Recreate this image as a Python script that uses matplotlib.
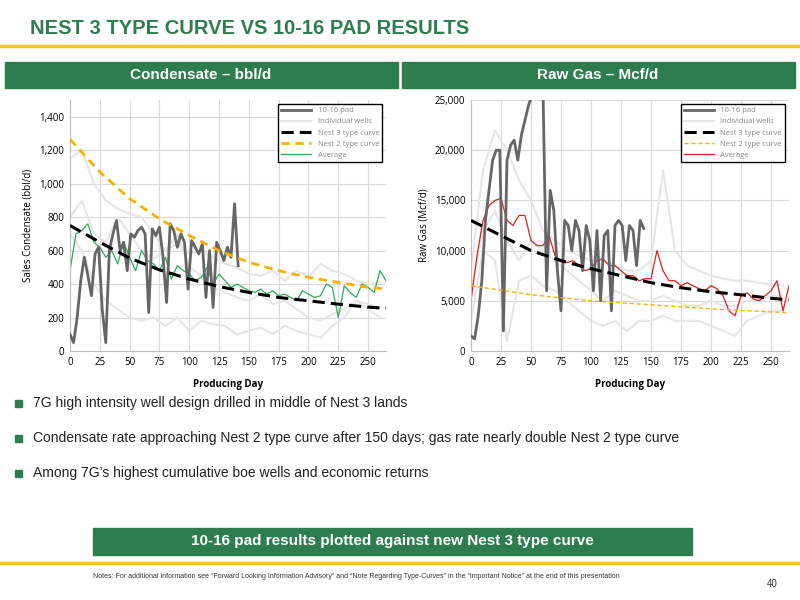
import matplotlib
matplotlib.use("Agg")
import matplotlib.pyplot as plt
from matplotlib import patches
from matplotlib.ticker import FuncFormatter

GREEN = "#2E7D4F"
GOLD = "#F2C12E"

# ---- condensate (bbl/d) ----
type_days = [0, 25, 50, 75, 100, 125, 150, 175, 200, 225, 250, 265]
cond_nest3 = [750, 650, 555, 485, 430, 385, 350, 320, 300, 280, 262, 255]
cond_nest2 = [1265, 1070, 910, 790, 690, 600, 530, 480, 440, 410, 380, 370]

cond_pad = [100, 50, 200, 420, 560, 450, 330, 580, 620, 250, 50, 600,
            700, 780, 600, 650, 480, 700, 680, 720, 740, 700, 230, 730,
            690, 740, 560, 290, 760, 720, 620, 700, 650, 370, 660, 620,
            580, 640, 320, 600, 260, 650, 600, 540, 620, 560, 880, 510]
cond_avg = [480, 700, 720, 760, 650, 620, 560, 600, 520, 650, 560, 480,
            600, 540, 520, 480, 560, 430, 510, 480, 460, 420, 440, 500,
            400, 460, 420, 380, 400, 380, 360, 350, 370, 340, 360, 330,
            340, 320, 300, 360, 340, 320, 330, 400, 380, 200, 390, 350,
            320, 400, 380, 350, 480, 420]
cond_wells = [
    [1150, 1200, 1000, 900, 850, 820, 800, 700, 600, 640, 580, 600, 560, 520,
     500, 460, 450, 480, 420, 480, 440, 520, 480, 460, 420, 400, 410],
    [700, 600, 400, 300, 250, 200, 180, 200, 150, 200, 120, 180, 160, 150,
     100, 120, 140, 100, 150, 120, 100, 80, 150, 200, 300, 250, 200],
    [800, 900, 700, 650, 800, 700, 600, 550, 600, 700, 500, 450, 380, 350,
     320, 300, 340, 280, 300, 250, 200, 180, 220, 250, 300, 280, 260],
]

# ---- raw gas (Mcf/d) ----
gas_nest3 = [13000, 11500, 10000, 9000, 8200, 7500, 6800, 6300, 5900, 5600, 5250, 5100]
gas_nest2 = [6500, 6050, 5600, 5300, 5000, 4800, 4600, 4400, 4200, 4050, 3900, 3800]
gas_pad = [1500, 1200, 3500, 7000, 13000, 16000, 19000, 20000, 20000, 2000,
           19000, 20500, 21000, 19000, 21500, 23000, 24500, 25500, 26000, 26000,
           26000, 6000, 16000, 14000, 8000, 4000, 13000, 12500, 10000, 13000,
           12000, 8000, 12500, 11000, 6000, 12000, 5000, 11500, 12000, 4000,
           12500, 13000, 12500, 9000, 12500, 12000, 8500, 13000, 12200]
gas_avg = [5000, 9500, 13000, 14500, 15000, 15200, 13000, 12500, 13500, 13500,
           11000, 10500, 10500, 11500, 9500, 9000, 8800, 9000, 8500, 8000,
           8200, 9000, 9200, 8500, 8500, 8000, 7500, 7500, 7000, 7200,
           7200, 10000, 8000, 7000, 7000, 6500, 6800, 6500, 6200, 6000,
           6500, 6200, 5500, 4000, 3500, 5500, 5800, 5200, 5000, 5500,
           6000, 7000, 4000, 6500]
gas_wells = [
    [8000, 18000, 22000, 20000, 17000, 15000, 12000, 11000, 10000, 9500, 9000, 9000,
     8500, 8000, 8000, 9000, 18000, 10000, 8500, 8000, 7500, 7200, 7000, 7000,
     6800, 6600, 6500],
    [3000, 10000, 9000, 1000, 7000, 7500, 6500, 6000, 5000, 4000, 3000, 2500,
     3000, 2000, 3000, 3000, 3500, 3000, 3000, 3000, 2500, 2000, 1500, 3000,
     3500, 4000, 4000],
    [6000, 12000, 14000, 11000, 9000, 11000, 10000, 9000, 8000, 7000, 6000, 5000,
     6000, 5500, 5000, 5000, 5500, 5000, 4500, 4500, 5000, 4500, 4500, 5000,
     5000, 5500, 5500],
]

bullets = [
    "7G high intensity well design drilled in middle of Nest 3 lands",
    "Condensate rate approaching Nest 2 type curve after 150 days; gas rate nearly double Nest 2 type curve",
    "Among 7G\u2019s highest cumulative boe wells and economic returns",
]

plt.rcParams["font.family"] = ["Open Sans", "DejaVu Sans"]

fig = plt.figure(figsize=(8, 6), dpi=100)


def px(x, y, w, h):
    return [x / 800, 1 - (y + h) / 600, w / 800, h / 600]


fig.text(30 / 800, 1 - 28 / 600, "NEST 3 TYPE CURVE VS 10-16 PAD RESULTS", color=GREEN,
         fontsize=14.5, fontweight="bold", family="Liberation Sans", va="center")
fig.add_artist(plt.Line2D([0, 1], [1 - 46 / 600] * 2, color=GOLD, lw=2.5))

for x0, label in [(5, "Condensate \u2013 bbl/d"), (402, "Raw Gas \u2013 Mcf/d")]:
    fig.add_artist(patches.Rectangle((x0 / 800, 1 - 88 / 600), 393 / 800, 26 / 600,
                                     color=GREEN, transform=fig.transFigure))
    fig.text((x0 + 196) / 800, 1 - 75 / 600, label, color="white", fontsize=11,
             fontweight="bold", family="Liberation Sans", ha="center", va="center")


def draw(ax, pad, avg, wells, nest3, nest2, avg_color, n2_lw, ymax, ystep, ylabel):
    for i, w in enumerate(wells):
        ax.plot(range(0, 10 * len(w), 10), w, color="#E6E6E6", lw=1.5,
                label="Individual wells" if i == 0 else None, zorder=1)
    ax.plot(range(0, 3 * len(pad), 3), pad, color="#666666", lw=2, label="10-16 pad", zorder=3)
    ax.plot(type_days, nest3, color="black", lw=2.2, ls=(0, (4, 2)), label="Nest 3 type curve", zorder=4)
    ax.plot(type_days, nest2, color="#F5B301", lw=n2_lw, ls=(0, (3, 2)), label="Nest 2 type curve", zorder=4)
    ax.plot(range(0, 5 * len(avg), 5), avg, color=avg_color, lw=0.9, label="Average", zorder=2)
    ax.set_xlim(0, 265)
    ax.set_ylim(0, ymax)
    ax.set_xticks(range(0, 251, 25))
    ax.set_yticks(range(0, ymax + 1, ystep))
    ax.yaxis.set_major_formatter(FuncFormatter(lambda v, p: f"{int(v):,}"))
    ax.grid(color="#D9D9D9", lw=0.8)
    ax.set_axisbelow(True)
    for s in ["top", "right"]:
        ax.spines[s].set_visible(False)
    for s in ["left", "bottom"]:
        ax.spines[s].set_color("#BFBFBF")
    ax.tick_params(length=0, labelsize=7, pad=4)
    ax.set_xlabel("Producing Day", fontsize=7, fontweight="bold", labelpad=8)
    ax.set_ylabel(ylabel, fontsize=7)
    h, l = ax.get_legend_handles_labels()
    order = ["10-16 pad", "Individual wells", "Nest 3 type curve", "Nest 2 type curve", "Average"]
    hd = dict(zip(l, h))
    leg = ax.legend([hd[k] for k in order], order, loc="upper right", fontsize=5.5,
                    fancybox=False, edgecolor="black", framealpha=1, handlelength=4,
                    labelcolor="#888888")
    leg.get_frame().set_linewidth(1)


ax1 = fig.add_axes(px(70, 100, 316, 251))
draw(ax1, cond_pad, cond_avg, cond_wells, cond_nest3, cond_nest2, "#2EAA5C", 2.0,
     1500, 200, "Sales Condensate (bbl/d)")
ax1.set_yticks(range(0, 1401, 200))
ax2 = fig.add_axes(px(471, 100, 318, 251))
draw(ax2, gas_pad, gas_avg, gas_wells, gas_nest3, gas_nest2, "#E02020", 1.0,
     25000, 5000, "Raw Gas (Mcf/d)")

for i, b in enumerate(bullets):
    y = 1 - (403 + 35 * i) / 600
    fig.add_artist(patches.Rectangle((15 / 800, y - 3.5 / 600), 7 / 800, 7 / 600,
                                     color=GREEN, transform=fig.transFigure))
    fig.text(33 / 800, y, b, fontsize=10, family="Liberation Sans", va="center", color="#222222")

fig.add_artist(patches.Rectangle((93 / 800, 1 - 555 / 600), 599 / 800, 27 / 600,
                                 color=GREEN, transform=fig.transFigure))
fig.text(392 / 800, 1 - 541.5 / 600, "10-16 pad results plotted against new Nest 3 type curve",
         color="white", fontsize=11, fontweight="bold", family="Liberation Sans",
         ha="center", va="center")
fig.add_artist(plt.Line2D([0, 1], [1 - 563 / 600] * 2, color=GOLD, lw=2.5))
fig.text(93 / 800, 1 - 577 / 600,
         "Notes: For additional information see \u201cForward Looking Information Advisory\u201d and "
         "\u201cNote Regarding Type-Curves\u201d in the \u201cImportant Notice\u201d at the end of this presentation",
         fontsize=5, family="Liberation Sans", va="center", color="#333333")
fig.text(778 / 800, 1 - 584 / 600, "40", fontsize=7, family="Liberation Sans",
         ha="right", va="center", color="#333333")

fig.savefig("out.png", dpi=100)
